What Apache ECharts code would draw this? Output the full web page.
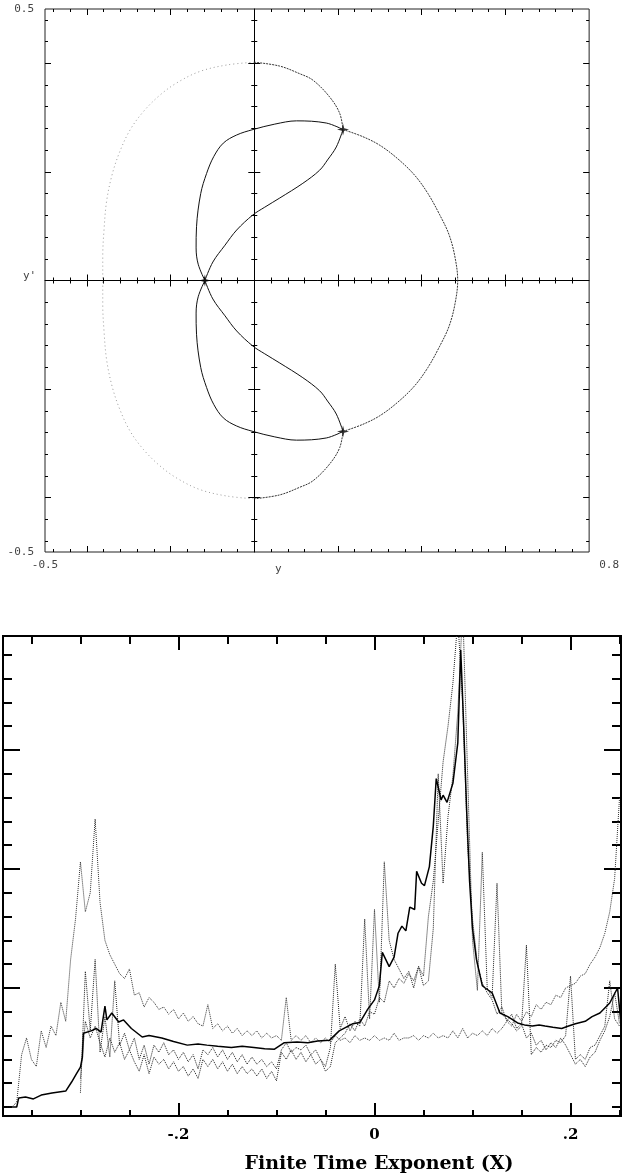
<!DOCTYPE html>
<html>
<head>
<meta charset="utf-8">
<script src="https://cdn.jsdelivr.net/npm/echarts@6/dist/echarts.min.js"></script>
<style>
html, body { margin: 0; padding: 0; background: #fff; }
#main { width: 622px; height: 1175px; }
</style>
</head>
<body>
<div id="main"></div>
<script>
// ---------- top panel: phase portrait (y, y') ----------
var phaseXMinor = [-0.48,-0.44,-0.4,-0.36,-0.32,-0.28,-0.24,-0.2,-0.16,-0.12,-0.08,-0.04,0,0.04,0.08,0.12,0.16,0.2,0.24,0.28,0.32,0.36,0.4,0.44,0.48,0.52,0.56,0.6,0.64,0.68,0.72,0.76];
var phaseXMajor = [-0.4,-0.2,0.2,0.4,0.6];
var phaseYMinor = [-0.48,-0.44,-0.4,-0.36,-0.32,-0.28,-0.24,-0.2,-0.16,-0.12,-0.08,-0.04,0.04,0.08,0.12,0.16,0.2,0.24,0.28,0.32,0.36,0.4,0.44,0.48];
var phaseYMajor = [-0.4,-0.2,0.2,0.4];
var phaseXLabelLeft = [-0.5];
var phaseXLabelRight = [0.8];
var phaseYLabels = [-0.5, 0.5];

// separatrix pieces, [y, y'] points
var outerLeft = [[0,0.402],[-0.065,0.397],[-0.13,0.385],[-0.185,0.364],[-0.226,0.341],[-0.265,0.311],[-0.297,0.277],[-0.322,0.236],[-0.34,0.194],[-0.353,0.145],[-0.359,0.093],[-0.362,0.045],[-0.362,0],[-0.362,-0.045],[-0.359,-0.093],[-0.353,-0.145],[-0.34,-0.194],[-0.322,-0.236],[-0.297,-0.277],[-0.265,-0.311],[-0.226,-0.341],[-0.185,-0.364],[-0.13,-0.385],[-0.065,-0.397],[0,-0.402]];
var outerTop = [[0,0.402],[0.06,0.395],[0.108,0.381],[0.14,0.369],[0.18,0.338],[0.204,0.308],[0.212,0.278]];
var outerRight = [[0.212,0.278],[0.259,0.265],[0.3,0.249],[0.343,0.224],[0.383,0.194],[0.415,0.16],[0.443,0.121],[0.465,0.085],[0.479,0.045],[0.486,0],[0.479,-0.045],[0.465,-0.085],[0.443,-0.121],[0.415,-0.16],[0.383,-0.194],[0.343,-0.224],[0.3,-0.249],[0.259,-0.265],[0.212,-0.278]];
var outerBottom = [[0.212,-0.278],[0.204,-0.308],[0.18,-0.338],[0.14,-0.369],[0.108,-0.381],[0.06,-0.395],[0,-0.402]];
var innerUpper = [[0.212,0.278],[0.172,0.29],[0.101,0.294],[0.049,0.288],[-0.003,0.278],[-0.042,0.268],[-0.074,0.253],[-0.097,0.228],[-0.114,0.197],[-0.128,0.16],[-0.138,0.099],[-0.139,0.06],[-0.134,0.03],[-0.118,0]];
var innerLower = [[-0.118,0],[-0.134,-0.03],[-0.139,-0.06],[-0.138,-0.099],[-0.128,-0.16],[-0.114,-0.197],[-0.097,-0.228],[-0.074,-0.253],[-0.042,-0.268],[-0.003,-0.278],[0.049,-0.288],[0.101,-0.294],[0.172,-0.29],[0.212,-0.278]];
var sUpper = [[0.212,0.278],[0.196,0.246],[0.175,0.222],[0.156,0.203],[0.116,0.179],[0.061,0.152],[0.025,0.135],[-0.003,0.121],[-0.042,0.093],[-0.07,0.065],[-0.099,0.034],[-0.118,0]];
var sLower = [[-0.118,0],[-0.099,-0.034],[-0.07,-0.065],[-0.042,-0.093],[-0.003,-0.121],[0.025,-0.135],[0.061,-0.152],[0.116,-0.179],[0.156,-0.203],[0.175,-0.222],[0.196,-0.246],[0.212,-0.278]];
var saddlePts = [[0.212,0.278],[-0.118,0],[0.212,-0.278]];

// ---------- bottom panel: finite time exponent distributions ----------
var expXMinor = [-0.35,-0.3,-0.25,-0.2,-0.15,-0.1,-0.05,0,0.05,0.1,0.15,0.2,0.25];
var expXMajor = [-0.2,0,0.2];
var expXLabels = [-0.2,0,0.2];
var expXLabelText = ['-.2','0','.2'];
var expYMinor = [0,1,2,3,4,5,6,7,8,9,10,11,12,13,14,15,16,17,18,19];
var expYMajor = [5,10,15];

var solidX = [-0.378,-0.365,-0.363,-0.356,-0.348,-0.340,-0.329,-0.315,-0.309,-0.304,-0.300,-0.298,-0.297,-0.295,-0.289,-0.284,-0.279,-0.275,-0.273,-0.268,-0.261,-0.256,-0.248,-0.237,-0.230,-0.217,-0.205,-0.191,-0.180,-0.171,-0.160,-0.146,-0.135,-0.123,-0.112,-0.102,-0.092,-0.079,-0.068,-0.058,-0.046,-0.036,-0.022,-0.015,-0.007,0,0.005,0.008,0.015,0.020,0.024,0.028,0.032,0.036,0.041,0.043,0.048,0.051,0.056,0.060,0.063,0.068,0.070,0.074,0.080,0.085,0.088,0.091,0.094,0.097,0.100,0.104,0.110,0.113,0.120,0.128,0.136,0.146,0.153,0.161,0.168,0.174,0.182,0.191,0.198,0.205,0.215,0.222,0.230,0.240,0.248,0.251,0.255];
var solidY = [0,0,0.38,0.42,0.34,0.5,0.59,0.67,1.05,1.4,1.68,2.1,3.1,3.15,3.2,3.3,3.15,4.24,3.66,3.95,3.57,3.66,3.3,2.94,3.0,2.9,2.75,2.6,2.65,2.6,2.55,2.5,2.55,2.5,2.45,2.43,2.7,2.73,2.7,2.77,2.8,3.2,3.5,3.55,4.1,4.5,5.1,6.5,5.9,6.3,7.3,7.6,7.4,8.4,8.3,9.9,9.4,9.3,10.1,11.8,13.8,12.9,13.1,12.8,13.6,15.3,19.2,16.0,12.5,9.5,7.5,6.2,5.1,5.0,4.8,3.95,3.8,3.53,3.45,3.4,3.45,3.4,3.35,3.3,3.4,3.5,3.6,3.8,3.95,4.37,5.0,3.7,3.5];

var dotX = [
  -0.375,-0.37,-0.365,-0.36,-0.355,-0.35,-0.345,-0.34,-0.335,-0.33,
  -0.325,-0.32,-0.315,-0.31,-0.305,-0.3,-0.295,-0.29,-0.285,-0.28,
  -0.275,-0.27,-0.265,-0.26,-0.255,-0.25,-0.245,-0.24,-0.235,-0.23,
  -0.225,-0.22,-0.215,-0.21,-0.205,-0.2,-0.195,-0.19,-0.185,-0.18,
  -0.175,-0.17,-0.165,-0.16,-0.155,-0.15,-0.145,-0.14,-0.135,-0.13,
  -0.125,-0.12,-0.115,-0.11,-0.105,-0.1,-0.095,-0.09,-0.085,-0.08,
  -0.075,-0.07,-0.065,-0.06,-0.055,-0.05,-0.045,-0.04,-0.035,-0.03,
  -0.025,-0.02,-0.015,-0.01,-0.005,0,0.005,0.01,0.015,0.02,
  0.025,0.03,0.035,0.04,0.045,0.05,0.055,0.06,0.065,0.07,
  0.075,0.08,0.085,0.09,0.095,0.1,0.105,0.11,0.115,0.12,
  0.125,0.13,0.135,0.14,0.145,0.15,0.155,0.16,0.165,0.17,
  0.175,0.18,0.185,0.19,0.195,0.2,0.205,0.21,0.215,0.22,
  0.225,0.23,0.235,0.24,0.245,0.25];
var dotA = [
  0,0,0.2,2.2,2.9,2.0,1.7,3.2,2.5,3.4,
  3.0,4.4,3.6,6.2,7.9,10.3,8.2,9.0,12.1,8.6,
  7.0,6.4,6.0,5.6,5.4,5.8,4.7,4.8,4.2,4.6,
  4.4,4.1,4.2,3.9,4.1,3.7,3.95,3.6,3.8,3.5,
  3.4,4.3,3.3,3.5,3.2,3.4,3.1,3.3,3.0,3.2,
  3.0,3.2,2.9,3.1,2.9,3.0,2.8,4.6,2.8,3.0,
  2.8,3.0,2.7,2.9,2.7,2.9,2.7,3.0,2.8,2.9,
  2.7,3.0,2.8,2.9,2.8,3.0,2.8,2.9,2.8,3.1,
  2.8,2.9,2.9,3.0,2.8,3.0,2.9,3.1,2.9,3.0,
  2.9,3.2,2.9,3.3,2.9,3.1,3.0,3.2,3.0,3.3,
  3.1,3.3,3.6,3.4,3.9,3.6,4.0,3.8,4.3,4.1,
  4.4,4.3,4.7,4.6,5.0,5.1,5.2,5.5,5.6,6.0,
  6.3,6.7,7.3,8.2,9.6,13.0];
var dotB = [
  '-','-','-','-','-','-','-','-','-','-',
  '-','-','-','-','-',0.6,5.7,3.2,6.2,2.3,
  3.8,2.1,5.3,2.6,3.1,2.4,2.9,2.0,2.6,1.8,
  2.6,2.3,2.7,2.2,2.4,2.0,2.3,1.9,2.2,1.6,
  2.4,2.2,2.5,2.1,2.4,2.0,2.3,1.9,2.2,1.8,
  2.1,1.8,2.0,1.7,1.9,1.6,2.4,2.7,2.3,2.5,
  2.4,2.6,2.2,2.4,2.0,1.7,2.5,6.0,3.3,3.8,
  3.2,3.6,3.4,7.9,3.7,8.3,4.4,10.3,7.0,6.2,
  5.8,5.4,5.7,5.0,5.9,5.1,5.3,7.5,14.0,9.4,
  12.2,13.9,16.6,21,14,7.0,4.9,10.7,5.0,4.6,
  9.4,3.9,3.7,3.5,3.2,3.4,6.8,2.2,2.5,2.3,
  2.6,2.5,2.8,2.7,3.0,5.5,2.0,2.2,2.0,2.5,
  2.6,3.0,3.4,5.3,3.7,3.4];
var dotC = [
  '-','-','-','-','-','-','-','-','-','-',
  '-','-','-','-','-',1.2,3.6,2.9,3.4,2.7,
  2.1,2.9,2.3,2.7,2.0,2.4,1.9,1.5,2.2,1.4,
  2.1,1.8,2.0,1.6,1.9,1.5,1.7,1.3,1.6,1.2,
  2.0,1.7,2.0,1.6,1.9,1.5,1.8,1.4,1.7,1.4,
  1.6,1.3,1.6,1.2,1.5,1.1,2.3,2.0,2.4,2.0,
  2.3,1.9,2.2,1.8,2.0,1.5,1.7,2.7,2.9,3.1,
  3.5,3.2,3.7,3.4,4.0,3.9,4.6,4.4,5.3,5.0,
  5.4,5.2,5.6,5.3,5.9,5.5,8.0,9.5,12.0,14.5,
  16.0,17.8,20.5,17.0,11.0,7.9,6.0,5.2,4.8,4.5,
  3.9,4.2,3.6,3.9,3.3,3.5,2.9,3.1,2.6,2.8,
  2.4,2.7,2.5,2.9,2.6,2.2,1.8,2.0,1.7,2.1,
  2.3,2.8,3.2,3.8,4.8,3.5];

function zip(xs, ys) {
  var out = [];
  for (var i = 0; i < xs.length; i++) out.push([xs[i], ys[i]]);
  return out;
}

var monoFont = 'DejaVu Sans Mono';
var serifFont = 'DejaVu Serif';

// one axis = one set of ticks (minor or major), stacked on the same edge
function ax(o) {
  var a = {
    type: 'value', gridIndex: o.grid, position: o.pos, min: o.min, max: o.max,
    axisLine: { show: !!o.line, onZero: o.zero != null, lineStyle: { color: '#000', width: 1 } },
    axisTick: { show: true, inside: !!o.inside, length: o.len, customValues: o.ticks,
                lineStyle: { color: '#000', width: o.tw || 1 } },
    axisLabel: { show: false },
    splitLine: { show: false }
  };
  if (o.zero != null) a.axisLine.onZeroAxisIndex = o.zero;
  if (o.labels) {
    a.axisLabel = Object.assign({ show: true, customValues: o.labels }, o.labelStyle);
  }
  return a;
}

var topLbl = { fontFamily: monoFont, fontSize: 11, color: '#444' };
var PX = [-0.5, 0.8], PY = [-0.5, 0.5];
var EX = [-0.379, 0.2515], EY = [-0.378, 19.79];

var xAxes = [
  ax({ grid: 0, pos: 'bottom', min: PX[0], max: PX[1], ticks: phaseXMinor, len: 3, inside: true,
       labels: phaseXLabelLeft, labelStyle: Object.assign({ margin: 8, formatter: function (v) { return v.toFixed(1); } }, topLbl) }),
  ax({ grid: 0, pos: 'bottom', min: PX[0], max: PX[1], ticks: phaseXMajor, len: 6, inside: true,
       labels: phaseXLabelRight, labelStyle: Object.assign({ margin: 8, align: 'left', padding: [0, 0, 0, 10], formatter: function (v) { return v.toFixed(1); } }, topLbl) }),
  ax({ grid: 0, pos: 'top', min: PX[0], max: PX[1], ticks: phaseXMinor, len: 3, inside: true }),
  ax({ grid: 0, pos: 'top', min: PX[0], max: PX[1], ticks: phaseXMajor, len: 6, inside: true }),
  ax({ grid: 0, pos: 'bottom', min: PX[0], max: PX[1], ticks: phaseXMinor, len: 3, inside: true, zero: 0, line: true }),
  ax({ grid: 0, pos: 'bottom', min: PX[0], max: PX[1], ticks: phaseXMinor, len: 3, inside: false, zero: 0 }),
  ax({ grid: 0, pos: 'bottom', min: PX[0], max: PX[1], ticks: phaseXMajor, len: 6, inside: true, zero: 0 }),
  ax({ grid: 0, pos: 'bottom', min: PX[0], max: PX[1], ticks: phaseXMajor, len: 6, inside: false, zero: 0 }),
  ax({ grid: 1, pos: 'bottom', min: EX[0], max: EX[1], ticks: expXMinor, len: 6, inside: true, tw: 2,
       labels: expXLabels, labelStyle: { margin: 12, fontFamily: serifFont, fontWeight: 'bold', fontSize: 15, color: '#000',
         formatter: function (v) { for (var i = 0; i < expXLabels.length; i++) if (Math.abs(v - expXLabels[i]) < 1e-6) return expXLabelText[i]; return ''; } } }),
  ax({ grid: 1, pos: 'bottom', min: EX[0], max: EX[1], ticks: expXMajor, len: 13, inside: true, tw: 2 }),
  ax({ grid: 1, pos: 'top', min: EX[0], max: EX[1], ticks: expXMinor, len: 8, inside: true, tw: 2 }),
  ax({ grid: 1, pos: 'top', min: EX[0], max: EX[1], ticks: expXMajor, len: 14, inside: true, tw: 2 })
];

var yAxes = [
  ax({ grid: 0, pos: 'left', min: PY[0], max: PY[1], ticks: phaseYMinor, len: 3, inside: true,
       labels: phaseYLabels, labelStyle: Object.assign({ margin: 11, formatter: function (v) { return v.toFixed(1); } }, topLbl) }),
  ax({ grid: 0, pos: 'left', min: PY[0], max: PY[1], ticks: phaseYMajor, len: 6, inside: true }),
  ax({ grid: 0, pos: 'right', min: PY[0], max: PY[1], ticks: phaseYMinor, len: 3, inside: true }),
  ax({ grid: 0, pos: 'right', min: PY[0], max: PY[1], ticks: phaseYMajor, len: 6, inside: true }),
  ax({ grid: 0, pos: 'left', min: PY[0], max: PY[1], ticks: phaseYMinor, len: 3, inside: true, zero: 0, line: true }),
  ax({ grid: 0, pos: 'left', min: PY[0], max: PY[1], ticks: phaseYMinor, len: 3, inside: false, zero: 0 }),
  ax({ grid: 0, pos: 'left', min: PY[0], max: PY[1], ticks: phaseYMajor, len: 6, inside: true, zero: 0 }),
  ax({ grid: 0, pos: 'left', min: PY[0], max: PY[1], ticks: phaseYMajor, len: 6, inside: false, zero: 0 }),
  ax({ grid: 1, pos: 'left', min: EY[0], max: EY[1], ticks: expYMinor, len: 9, inside: true, tw: 2 }),
  ax({ grid: 1, pos: 'left', min: EY[0], max: EY[1], ticks: expYMajor, len: 17, inside: true, tw: 2 }),
  ax({ grid: 1, pos: 'right', min: EY[0], max: EY[1], ticks: expYMinor, len: 9, inside: true, tw: 2 }),
  ax({ grid: 1, pos: 'right', min: EY[0], max: EY[1], ticks: expYMajor, len: 17, inside: true, tw: 2 })
];

function curve(pts, color, type, width) {
  return { type: 'line', xAxisIndex: 0, yAxisIndex: 0, data: pts, smooth: 0.35, symbol: 'none',
           lineStyle: { color: color, type: type, width: width } };
}
function dist(pts, type, color, width) {
  return { type: 'line', xAxisIndex: 8, yAxisIndex: 8, data: pts, symbol: 'none',
           lineStyle: { color: color, type: type, width: width } };
}

var chart = echarts.init(document.getElementById('main'), null, { renderer: 'canvas' });
chart.setOption({
  animation: false,
  backgroundColor: '#fff',
  title: [
    { text: 'y', left: 270, top: 559, textStyle: { fontFamily: monoFont, fontSize: 11, fontWeight: 'normal', color: '#444' } },
    { text: "y'", left: 18, top: 266, textStyle: { fontFamily: monoFont, fontSize: 11, fontWeight: 'normal', color: '#444' } },
    { text: 'Finite Time Exponent (X)', left: 374, top: 1150, textAlign: 'center',
      textStyle: { fontFamily: serifFont, fontSize: 19, fontWeight: 'bold', color: '#000' } }
  ],
  grid: [
    { left: 45, top: 9, width: 545, height: 543, show: true, borderColor: '#222', borderWidth: 1, backgroundColor: 'transparent' },
    { left: 3, top: 636, width: 618, height: 480, show: true, borderColor: '#000', borderWidth: 2, backgroundColor: 'transparent' }
  ],
  xAxis: xAxes,
  yAxis: yAxes,
  series: [
    curve(outerLeft, '#999', [1, 3], 1),
    curve(outerTop, '#333', [2, 1], 1),
    curve(outerRight, '#333', [2, 1], 1),
    curve(outerBottom, '#333', [2, 1], 1),
    curve(innerUpper, '#111', 'solid', 1),
    curve(innerLower, '#111', 'solid', 1),
    curve(sUpper, '#111', 'solid', 1),
    curve(sLower, '#111', 'solid', 1),
    { type: 'scatter', xAxisIndex: 0, yAxisIndex: 0, data: saddlePts, symbolSize: 12,
      symbol: 'path://M50,0 L60,40 L100,50 L60,60 L50,100 L40,60 L0,50 L40,40 Z',
      itemStyle: { color: '#000' } },
    dist(zip(dotX, dotA), 'dotted', '#333', 1),
    dist(zip(dotX, dotB), 'dotted', '#222', 1),
    dist(zip(dotX, dotC), 'dotted', '#222', 1),
    dist(zip(solidX, solidY), 'solid', '#000', 1.5)
  ]
});
</script>
</body>
</html>
